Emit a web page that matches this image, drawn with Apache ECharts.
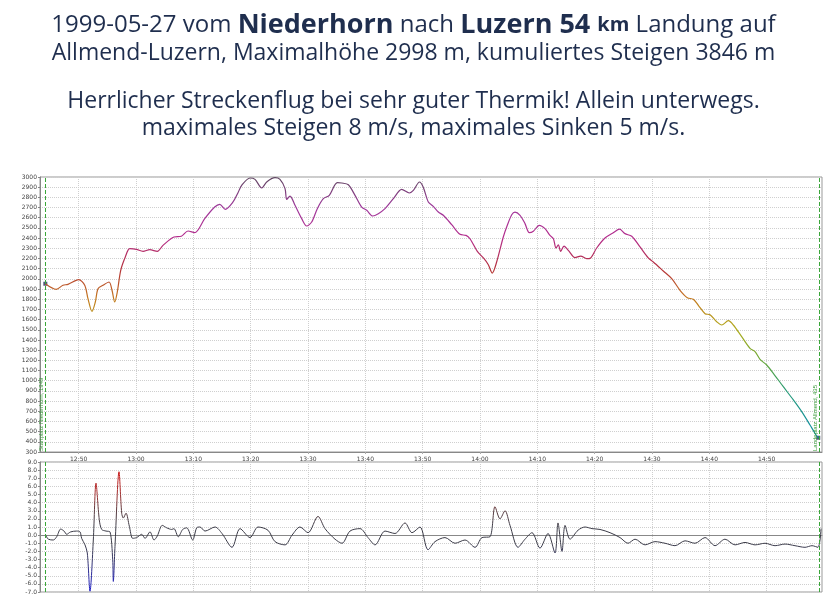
<!DOCTYPE html>
<html><head><meta charset="utf-8">
<script src="https://cdn.jsdelivr.net/npm/echarts@6/dist/echarts.min.js"></script>
<style>html,body{margin:0;padding:0;background:#fff}#c{width:827px;height:600px}</style>
</head><body><div id="c"></div>
<script>
// time values: minutes after 12:00
const altTime = [44.18,46.09,47.26,48.13,50.0,51.05,51.62,52.32,52.9,53.37,54.24,55.29,55.81,56.28,56.73,57.33,58.13,58.9,60.05,61.22,62.39,63.71,64.7,66.62,67.9,69.07,70.23,71.98,73.72,74.6,75.57,76.92,77.79,78.43,79.88,80.75,81.92,82.79,84.24,85.11,85.99,86.28,86.86,87.73,88.9,89.77,90.64,91.62,92.67,93.71,95.11,95.88,97.03,98.2,99.36,100.24,101.28,102.26,103.43,104.88,106.34,107.67,108.37,109.45,110.1,110.98,111.85,112.73,113.6,115.06,116.5,117.56,118.25,119.53,120.7,121.45,122.14,122.9,124.06,124.76,125.53,126.1,126.98,127.85,128.6,129.3,130.34,131.34,132.2,132.8,133.26,133.66,134.07,134.65,135.4,136.57,137.56,138.6,139.3,140.35,141.8,143.25,144.35,145.29,146.46,147.91,149.35,150.23,151.97,153.44,154.88,156.16,157.2,158.08,159.25,160.12,161.29,162.16,163.31,164.18,165.64,167.09,167.97,168.84,170.0,171.16,172.9,174.65,176.11,177.56,178.61,179.0];
const altValue = [1952,1897,1937,1946,1992,1937,1805,1681,1773,1903,1937,1969,1888,1773,1871,2084,2215,2296,2290,2270,2286,2270,2329,2411,2418,2470,2453,2591,2705,2732,2683,2755,2846,2918,2990,2977,2892,2951,2993,2977,2886,2781,2813,2722,2591,2519,2558,2689,2787,2820,2944,2941,2924,2820,2705,2673,2617,2640,2689,2787,2879,2843,2869,2951,2900,2755,2712,2656,2624,2532,2437,2427,2394,2270,2198,2139,2057,2165,2411,2526,2630,2656,2624,2542,2453,2467,2526,2493,2427,2394,2303,2335,2270,2322,2280,2208,2224,2198,2205,2303,2401,2453,2488,2444,2418,2313,2205,2165,2077,2002,1888,1815,1799,1740,1658,1648,1579,1547,1589,1547,1432,1318,1285,1210,1154,1073,941,811,696,565,467,440];
const varioTime = [44.24,44.7,45.57,46.16,46.86,47.44,47.91,48.6,49.65,50.23,50.52,51.1,51.5,51.97,52.55,53.02,53.59,54.01,54.76,55.46,55.93,56.04,56.33,57.03,57.5,57.78,58.25,58.83,59.42,60.11,60.99,61.57,62.44,63.14,63.71,64.58,65.35,66.22,66.62,67.37,68.14,68.84,69.88,70.58,71.16,72.03,73.78,75.0,76.74,78.14,79.88,81.28,83.02,84.24,85.99,87.21,88.6,90.0,91.74,92.96,94.71,95.93,97.32,99.07,100.46,101.69,103.43,105.17,106.92,108.14,109.53,110.93,112.15,113.89,115.64,117.38,119.13,120.35,121.74,122.61,123.49,124.36,125.23,126.63,127.85,129.07,130.46,131.86,133.08,133.6,134.3,134.83,135.7,137.09,138.31,139.53,140.93,142.68,144.42,145.81,147.04,148.78,150.52,152.27,154.01,155.76,157.5,159.25,160.99,162.73,164.48,166.22,167.97,169.71,171.46,173.2,174.94,176.69,177.91,178.95,179.48];
const varioValue = [0,-0.5,-0.6,-0.2,0.75,0.5,0.1,0.4,0.5,0.4,-0.4,-1.2,-2.2,-6.9,-0.6,6.4,1.9,0.7,0.5,0.4,-3.0,-5.7,-1.4,7.8,2.7,2.1,2.7,1.1,-0.4,-0.3,0.1,-0.4,0.4,-0.6,-0.1,1.2,0.9,0.7,0.8,-0.2,0.7,0.9,-0.6,0.9,1.0,0.5,1.0,0.2,-1.5,0.8,-0.3,1.0,0.6,-0.8,-1.2,0.0,1.0,0.3,2.3,0.8,-0.5,-1.0,0.5,0.8,-0.3,-1.2,0.5,0.2,1.5,0.3,1.0,-1.8,-0.8,-0.3,-1.0,-0.6,-1.5,-0.3,-0.2,3.5,2.0,3.0,1.2,-1.5,-0.5,0.3,-1.6,0.2,-2.2,1.5,-2.0,1.2,-0.5,0.6,1.0,0.8,0.7,0.3,-0.3,-1.0,-0.5,-1.2,-0.8,-1.0,-1.3,-0.7,-1.0,-0.3,-1.3,-0.5,-1.2,-0.9,-1.2,-1.0,-1.3,-1.1,-1.3,-1.5,-1.3,-1.5,0.8];
const timeTickLabels = ["12:50","13:00","13:10","13:20","13:30","13:40","13:50","14:00","14:10","14:20","14:30","14:40","14:50"];
const markerTimes = [44.2, 179.2];
const markerLabels = ["Startplatz Niederhorn, 1949", "Landeplatz Allmend, 435"];
const titleLines = [
  "1999-05-27 vom |Niederhorn| nach |Luzern 54 |km| Landung auf",
  "Allmend-Luzern, Maximalhöhe 2998 m, kumuliertes Steigen 3846 m",
  "Herrlicher Streckenflug bei sehr guter Thermik! Allein unterwegs.",
  "maximales Steigen 8 m/s, maximales Sinken 5 m/s."
];

const toMin = s => { const [h, m] = s.split(':').map(Number); return (h - 12) * 60 + m; };
const fmtTime = v => { const h = 12 + Math.floor(v / 60); const m = Math.round(v % 60); return h + ':' + (m < 10 ? '0' : '') + m; };
const tickVals = timeTickLabels.map(toMin);
const xMin = 43.25, xMax = 179.65;
const navy = '#1f2e4e';
const ff = '"Open Sans", "Noto Sans", sans-serif';
const gridLine = { show: true, lineStyle: { color: '#cfcfcf', type: 'dotted', width: 1 } };
const lbl = { fontSize: 6, color: '#444', fontFamily: 'DejaVu Sans' };
const tfs = 23;

const parts = titleLines[0].split('|');
const richLine1 = '{n|' + parts[0] + '}{b|' + parts[1] + '}{n|' + parts[2] + '}{b|' + parts[3] + '}{k|' + parts[4] + '}{n|' + parts[5] + '}';
const tStyle = { fontSize: tfs, color: navy, fontWeight: 'normal', fontFamily: ff };

const chart = echarts.init(document.getElementById('c'), null, { renderer: 'canvas' });
chart.setOption({
  animation: false,
  backgroundColor: '#fff',
  title: [
    { left: 'center', top: 12, padding: 0, text: richLine1, textStyle: { fontWeight: 'normal', fontSize: 24, color: navy, fontFamily: ff, rich: {
        n: { fontSize: 24, color: navy, fontWeight: 'normal', fontFamily: ff },
        b: { fontSize: 27, color: navy, fontWeight: 'bold', fontFamily: ff },
        k: { fontSize: 20, color: navy, fontWeight: 'bold', fontFamily: ff } } } },
    { left: 'center', top: 42, padding: 0, text: titleLines[1], textStyle: tStyle },
    { left: 'center', top: 90, padding: 0, text: titleLines[2], textStyle: tStyle },
    { left: 'center', top: 117, padding: 0, text: titleLines[3], textStyle: tStyle }
  ],
  grid: [
    { left: 40, right: 5, top: 177, height: 275, show: true, borderColor: '#999', borderWidth: 1 },
    { left: 40, right: 5, top: 462, height: 130, show: true, borderColor: '#999', borderWidth: 1 }
  ],
  xAxis: [
    { type: 'value', gridIndex: 0, min: xMin, max: xMax,
      axisLine: { show: true, onZero: false, lineStyle: { color: '#888' } },
      axisTick: { show: true, customValues: tickVals, length: 2, lineStyle: { color: '#aaa' } },
      axisLabel: { customValues: tickVals, formatter: fmtTime, margin: 4, ...lbl },
      splitLine: gridLine },
    { type: 'value', gridIndex: 1, min: xMin, max: xMax,
      axisLine: { show: true, onZero: true, lineStyle: { color: '#888' } },
      axisTick: { show: false, customValues: tickVals },
      axisLabel: { show: false, customValues: tickVals },
      splitLine: gridLine }
  ],
  yAxis: [
    { type: 'value', gridIndex: 0, min: 300, max: 3000, interval: 100,
      axisLine: { show: true, lineStyle: { color: '#888' } },
      axisTick: { show: true, length: 2, lineStyle: { color: '#888' } },
      axisLabel: { margin: 3, formatter: v => String(v), ...lbl },
      splitLine: gridLine },
    { type: 'value', gridIndex: 1, min: -7, max: 9, interval: 1,
      axisLine: { show: true, lineStyle: { color: '#888' } },
      axisTick: { show: true, length: 2, lineStyle: { color: '#888' } },
      axisLabel: { margin: 3, formatter: v => v.toFixed(1), ...lbl },
      splitLine: gridLine }
  ],
  visualMap: [
    { type: 'continuous', show: false, seriesIndex: 0, dimension: 1, min: 300, max: 3000,
      inRange: { color: ['#0e8a9e', '#16929a', '#2a9c78', '#6aa836', '#b0ac1e', '#c47a1e', '#b4303a', '#b42c8c', '#a0389c', '#5e4660'] } },
    { type: 'continuous', show: false, seriesIndex: 2, dimension: 1, min: -7, max: 9,
      inRange: { color: ['#1818c8', '#2828a0', '#383868', '#3c3c48', '#3c3c48', '#5a3c40', '#a03030', '#c01c1c', '#d01010'] } }
  ],
  series: [
    { type: 'line', xAxisIndex: 0, yAxisIndex: 0, showSymbol: false, smooth: 0.3,
      lineStyle: { width: 1.2 },
      data: altTime.map((t, i) => [t, altValue[i]]),
      markLine: { silent: true, symbol: 'none', animation: false,
        lineStyle: { color: '#3aa63a', type: 'dashed', width: 1 },
        label: { show: true, position: 'insideStartTop', fontSize: 6, color: '#3a9a3a', distance: 1 },
        data: markerTimes.map((t, i) => ({ xAxis: t, label: { formatter: markerLabels[i] } })) } },
    { type: 'scatter', xAxisIndex: 0, yAxisIndex: 0, symbol: 'rect', symbolSize: 4,
      itemStyle: { color: '#26305a' },
      data: [[altTime[0], altValue[0]], [altTime[altTime.length - 1], altValue[altValue.length - 1]]] },
    { type: 'line', xAxisIndex: 1, yAxisIndex: 1, showSymbol: false, smooth: 0.3,
      lineStyle: { width: 1 },
      data: varioTime.map((t, i) => [t, varioValue[i]]),
      markLine: { silent: true, symbol: 'none', animation: false,
        lineStyle: { color: '#3aa63a', type: 'dashed', width: 1 },
        label: { show: false },
        data: markerTimes.map(t => ({ xAxis: t })) } }
  ]
});
</script>
</body></html>
